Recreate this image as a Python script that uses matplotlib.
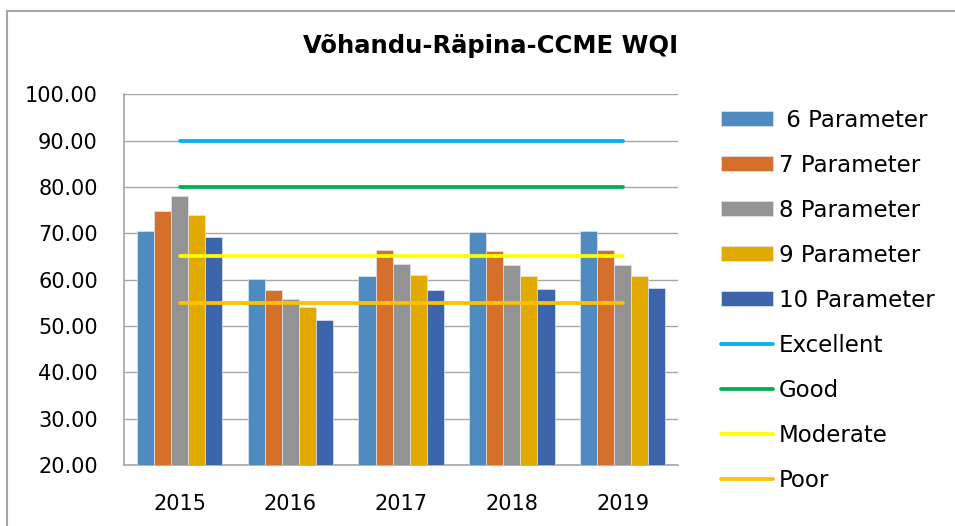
import matplotlib.pyplot as plt
import numpy as np
from matplotlib.lines import Line2D

years = ["2015", "2016", "2017", "2018", "2019"]
series_names = [" 6 Parameter", "7 Parameter", "8 Parameter", "9 Parameter", "10 Parameter"]
p6 = [70.5, 60.2, 60.7, 70.2, 70.4]
p7 = [74.7, 57.7, 66.3, 66.2, 66.3]
p8 = [78.0, 55.8, 63.3, 63.2, 63.2]
p9 = [73.9, 54.1, 60.9, 60.8, 60.8]
p10 = [69.1, 51.2, 57.7, 57.9, 58.1]
bar_colors = ["#4F8BC0", "#D4702C", "#939393", "#E2A900", "#3D65AE"]

class_names = ["Excellent", "Good", "Moderate", "Poor"]
class_values = [90, 80, 65, 55]
class_colors = ["#00B0F0", "#00B050", "#FFFF00", "#FFC000"]

fig = plt.figure(figsize=(9.55, 5.26), dpi=100)
ax = fig.add_axes([0.130, 0.116, 0.580, 0.705])

x = np.arange(len(years))
w = 0.154
series = [p6, p7, p8, p9, p10]
handles = []
for i, (vals, name, col) in enumerate(zip(series, series_names, bar_colors)):
    b = ax.bar(x + (i - 2) * w, vals, width=w, color=col, edgecolor="#dfe6ee",
               linewidth=0.5, label=name, zorder=3)
    handles.append(b)

for name, val, col in zip(class_names, class_values, class_colors):
    ln, = ax.plot([x[0], x[-1]], [val, val], color=col, linewidth=2.7,
                  label=name, zorder=4, solid_capstyle="round")
    handles.append(ln)

ax.set_xlim(-0.5, len(years) - 0.5)
ax.set_ylim(20, 100)
ax.set_yticks(np.arange(20, 101, 10))
ax.set_yticklabels([f"{v:.2f}" for v in np.arange(20, 101, 10)])
ax.set_xticks(x)
ax.set_xticklabels(years)
ax.tick_params(axis="y", labelsize=15, length=0, pad=19)
ax.tick_params(axis="x", labelsize=15, length=0, pad=21)
ax.grid(True, axis="y", color="#a6a6a6", linewidth=1.0, zorder=0)
for s in ["top", "right"]:
    ax.spines[s].set_visible(False)
for s in ["left", "bottom"]:
    ax.spines[s].set_color("#a6a6a6")
    ax.spines[s].set_linewidth(1.2)

fig.text(0.514, 0.9125, "Võhandu-Räpina-CCME WQI", ha="center", va="center",
         fontsize=17.5, fontweight="bold")

fig.legend(handles=handles, labels=series_names + class_names,
           loc="upper left", bbox_to_anchor=(0.745, 0.811), frameon=False,
           fontsize=16.5, handlelength=2.27, handleheight=0.58,
           handletextpad=0.26, labelspacing=0.96, borderaxespad=0)

# chart area border (top and left edges visible in the crop)
fig.add_artist(Line2D([0.0075, 1.0], [0.979, 0.979], transform=fig.transFigure,
                      color="#a6a6a6", linewidth=1.5))
fig.add_artist(Line2D([0.0075, 0.0075], [0.0, 0.979], transform=fig.transFigure,
                      color="#a6a6a6", linewidth=1.5))

fig.savefig("out.png", dpi=100)
